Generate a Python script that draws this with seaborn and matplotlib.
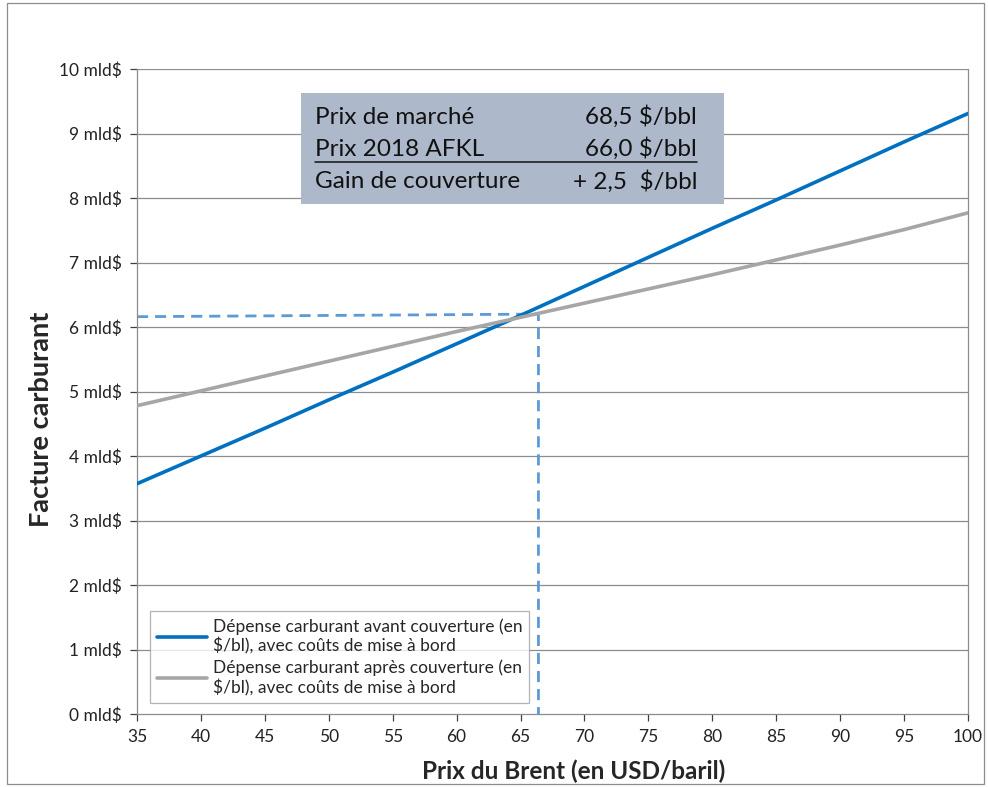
import matplotlib
matplotlib.use("Agg")
import matplotlib.pyplot as plt
from matplotlib.lines import Line2D
from matplotlib.patches import Rectangle
import seaborn as sns
import pandas as pd

# ---- data ----
brent = [35, 40, 45, 50, 55, 60, 65, 70, 75, 80, 85, 90, 95, 100]
avant = [3.57, 4.00, 4.43, 4.87, 5.30, 5.74, 6.18, 6.63, 7.08, 7.53, 7.97, 8.42, 8.87, 9.31]
apres = [4.78, 5.01, 5.24, 5.47, 5.70, 5.93, 6.15, 6.37, 6.59, 6.81, 7.04, 7.27, 7.51, 7.77]
dash_x = [35, 66.4, 66.4]
dash_y = [6.16, 6.20, 0.0]
series_names = ["Dépense carburant avant couverture (en\n$/bl), avec coûts de mise à bord",
                "Dépense carburant après couverture (en\n$/bl), avec coûts de mise à bord"]
box_rows = [("Prix de marché", "68,5 $/bbl"),
            ("Prix 2018 AFKL", "66,0 $/bbl"),
            ("Gain de couverture", "+ 2,5  $/bbl")]
x_ticks = list(range(35, 101, 5))
y_ticks = list(range(0, 11))

sns.set_style("white")
plt.rcParams['font.family'] = ['Lato', 'DejaVu Sans']

df = pd.DataFrame({
    "x": brent * 2,
    "y": avant + apres,
    "s": [series_names[0]] * len(brent) + [series_names[1]] * len(brent),
})

fig = plt.figure(figsize=(9.88, 7.87), dpi=100)
ax = fig.add_axes([137 / 988, 1 - 714 / 787, (968 - 137) / 988, (714 - 69) / 787])

grid_c = "#8C8C8C"
for v in y_ticks[1:]:
    ax.axhline(v, color=grid_c, lw=0.9, zorder=0)

sns.lineplot(data=df, x="x", y="y", hue="s", palette=["#0070C0", "#A6A6A6"],
             linewidth=2.6, ax=ax, legend=True, zorder=3)
ax.plot(dash_x, dash_y, color="#5B9BD5", lw=2.0, ls=(0, (4, 2.5)), zorder=2)

ax.set_xlim(35, 100)
ax.set_ylim(0, 10)
ax.set_xticks(x_ticks)
ax.set_yticks(y_ticks)
ax.set_yticklabels([f"{v} mld$" for v in y_ticks])
ax.tick_params(axis="both", labelsize=12.5, colors="#404040", length=5, width=0.9,
               direction="out", left=True, bottom=True, pad=6, labelcolor="#222222")
for side in ["left", "bottom", "right"]:
    ax.spines[side].set_visible(True)
    ax.spines[side].set_color(grid_c)
    ax.spines[side].set_linewidth(0.9)
ax.spines["top"].set_visible(False)

ax.set_xlabel("Prix du Brent (en USD/baril)", fontsize=17.5, fontweight="bold")
ax.set_ylabel("Facture carburant", fontsize=19.5, fontweight="bold")
ax.yaxis.set_label_coords(-84 / 831, (714 - 419) / 645)
ax.xaxis.set_label_coords((574 - 137) / 831, -46 / 645)

leg = ax.legend(loc="lower left", bbox_to_anchor=(13 / 831, 11 / 645), fontsize=12.5,
                frameon=True, fancybox=False, edgecolor="#A0A0A0", handlelength=2.9,
                borderpad=0.4, labelspacing=0.3, handletextpad=0.3, borderaxespad=0)
leg.get_frame().set_linewidth(0.9)
for line in leg.get_lines():
    line.set_linewidth(2.6)
leg.set_title(None)

# info box
W, H = 988, 787
def fx(px):
    return px / W
def fy(py):
    return 1 - py / H

fig.add_artist(Rectangle((fx(301), fy(204)), fx(724) - fx(301), fy(93) - fy(204),
                         transform=fig.transFigure, facecolor="#ADB9CA", edgecolor="none", zorder=5))
row_y = [117, 149, 182]
for (lt, rt), yy in zip(box_rows, row_y):
    fig.text(fx(315), fy(yy), lt, fontsize=17.5, ha="left", va="center", color="#111111", zorder=6)
    fig.text(fx(697), fy(yy), rt, fontsize=17.5, ha="right", va="center", color="#111111", zorder=6)
fig.add_artist(Line2D([fx(315), fx(697)], [fy(162), fy(162)], transform=fig.transFigure,
                      color="#111111", lw=1.1, zorder=6))

# outer border
fig.add_artist(Rectangle((fx(7), fy(784)), fx(984) - fx(7), fy(3) - fy(784),
                         transform=fig.transFigure, facecolor="none", edgecolor="#8C8C8C", lw=0.9))

fig.savefig("out.png", dpi=100)
